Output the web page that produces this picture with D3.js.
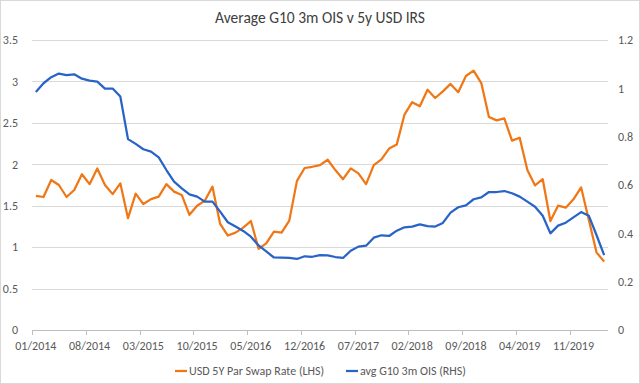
<!DOCTYPE html>
<html>
<head>
<meta charset="utf-8">
<script src="https://cdn.jsdelivr.net/npm/d3@7"></script>
<style>
    body { margin: 0; background: #fff; }
    svg text { font-family: Carlito, Calibri, Lato, "Open Sans", sans-serif; }
</style>
</head>
<body>
<div id="chart"></div>
<script>
// monthly categories, 01/2014 .. 03/2020
const months = d3.timeMonth.range(new Date(2014, 0, 1), new Date(2020, 3, 1));
const tickLabels = ['01/2014', '08/2014', '03/2015', '10/2015', '05/2016', '12/2016',
    '07/2017', '02/2018', '09/2018', '04/2019', '11/2019'];

const swapRate = [1.62, 1.605, 1.81, 1.75, 1.605, 1.69, 1.88, 1.76, 1.95, 1.75,
    1.64, 1.77, 1.35, 1.645, 1.52, 1.58, 1.61, 1.76, 1.67, 1.63,
    1.39, 1.50, 1.56, 1.73, 1.28, 1.14, 1.175, 1.235, 1.315, 0.98,
    1.046, 1.187, 1.175, 1.32, 1.80, 1.955, 1.97, 1.99, 2.055, 1.93,
    1.82, 1.95, 1.89, 1.76, 1.99, 2.06, 2.19, 2.24, 2.60, 2.75,
    2.70, 2.90, 2.80, 2.88, 2.97, 2.87, 3.065, 3.13, 2.98, 2.57,
    2.53, 2.555, 2.285, 2.32, 1.93, 1.745, 1.82, 1.315, 1.50, 1.476,
    1.577, 1.72, 1.33, 0.937, 0.825];

const ois = [0.985, 1.021, 1.046, 1.061, 1.055, 1.058, 1.04, 1.032, 1.028, 0.999,
    0.999, 0.966, 0.79, 0.77, 0.748, 0.738, 0.714, 0.662, 0.614, 0.586,
    0.561, 0.552, 0.531, 0.531, 0.49, 0.446, 0.428, 0.41, 0.386, 0.35,
    0.325, 0.30, 0.299, 0.298, 0.294, 0.305, 0.303, 0.31, 0.309, 0.302,
    0.298, 0.328, 0.345, 0.349, 0.382, 0.392, 0.389, 0.411, 0.425, 0.428,
    0.437, 0.43, 0.428, 0.443, 0.486, 0.508, 0.516, 0.541, 0.549, 0.571,
    0.571, 0.575, 0.566, 0.552, 0.531, 0.51, 0.473, 0.40, 0.432, 0.444,
    0.466, 0.488, 0.473, 0.393, 0.31];

const leftTicks = [0, 0.5, 1, 1.5, 2, 2.5, 3, 3.5];
const rightTicks = [0, 0.2, 0.4, 0.6, 0.8, 1, 1.2];

const width = 640, height = 384;
const plot = { left: 32, right: 608, top: 40, bottom: 330 };
const orange = '#f07716', blue = '#2864c6', labelCol = '#595959';

const fmt = d3.timeFormat('%m/%Y');

const x = d3.scaleBand()
    .domain(months.map(fmt))
    .range([plot.left, plot.right]);
const yL = d3.scaleLinear().domain([0, 3.5]).range([plot.bottom, plot.top]);
const yR = d3.scaleLinear().domain([0, 1.2]).range([plot.bottom, plot.top]);

const svg = d3.select('#chart').append('svg')
    .attr('width', width)
    .attr('height', height);

svg.append('rect')
    .attr('x', 0.5).attr('y', 0.5)
    .attr('width', width - 1).attr('height', height - 1)
    .attr('fill', '#fff')
    .attr('stroke', '#d9d9d9');

svg.append('text')
    .attr('x', width / 2)
    .attr('y', 23)
    .attr('text-anchor', 'middle')
    .attr('font-size', 15.5)
    .attr('fill', '#404040')
    .text('Average G10 3m OIS v 5y USD IRS');

// gridlines
svg.append('g')
    .selectAll('line')
    .data(leftTicks.filter(d => d > 0))
    .join('line')
    .attr('x1', plot.left).attr('x2', plot.right)
    .attr('y1', d => Math.round(yL(d)) + 0.5)
    .attr('y2', d => Math.round(yL(d)) + 0.5)
    .attr('stroke', '#d9d9d9');

// left axis
const leftAxis = svg.append('g')
    .attr('transform', `translate(${plot.left - 11},0)`)
    .call(d3.axisLeft(yL).tickValues(leftTicks).tickSize(0).tickFormat(d3.format('')));
leftAxis.select('.domain').remove();
leftAxis.selectAll('text').attr('fill', labelCol).attr('font-size', 12);

// right axis
const rightAxis = svg.append('g')
    .attr('transform', `translate(${plot.right + 7},0)`)
    .call(d3.axisRight(yR).tickValues(rightTicks).tickSize(0).tickFormat(d3.format('')));
rightAxis.select('.domain').remove();
rightAxis.selectAll('text').attr('fill', labelCol).attr('font-size', 12);

// bottom axis
const bottomAxis = svg.append('g')
    .attr('transform', `translate(0,${plot.bottom + 8})`)
    .call(d3.axisBottom(x).tickValues(tickLabels).tickSize(0));
bottomAxis.select('.domain').remove();
bottomAxis.selectAll('text').attr('fill', labelCol).attr('font-size', 12);

svg.append('line')
    .attr('x1', plot.left).attr('x2', plot.right)
    .attr('y1', plot.bottom + 0.5).attr('y2', plot.bottom + 0.5)
    .attr('stroke', '#bfbfbf');

svg.append('g')
    .selectAll('line')
    .data(tickLabels)
    .join('line')
    .attr('x1', d => Math.round(x(d)) + 0.5)
    .attr('x2', d => Math.round(x(d)) + 0.5)
    .attr('y1', plot.bottom)
    .attr('y2', plot.bottom + 5)
    .attr('stroke', '#bfbfbf');

const cx = (d, i) => x(fmt(months[i])) + x.bandwidth() / 2;

svg.append('path')
    .datum(swapRate)
    .attr('fill', 'none')
    .attr('stroke', orange)
    .attr('stroke-width', 2.25)
    .attr('stroke-linejoin', 'round')
    .attr('d', d3.line().x(cx).y(d => yL(d)));

svg.append('path')
    .datum(ois)
    .attr('fill', 'none')
    .attr('stroke', blue)
    .attr('stroke-width', 2.25)
    .attr('stroke-linejoin', 'round')
    .attr('d', d3.line().x(cx).y(d => yR(d)));

// legend
const legend = [
    { name: 'USD 5Y Par Swap Rate (LHS)', color: orange, x: 175 },
    { name: 'avg G10 3m OIS (RHS)', color: blue, x: 346 }
];
const lg = svg.append('g').selectAll('g')
    .data(legend)
    .join('g')
    .attr('transform', d => `translate(${d.x},371)`);
lg.append('line')
    .attr('x1', 0).attr('x2', 12)
    .attr('stroke', d => d.color)
    .attr('stroke-width', 2.25);
lg.append('text')
    .attr('x', 14)
    .attr('dy', '0.35em')
    .attr('font-size', 12)
    .attr('fill', labelCol)
    .text(d => d.name);
</script>
</body>
</html>
